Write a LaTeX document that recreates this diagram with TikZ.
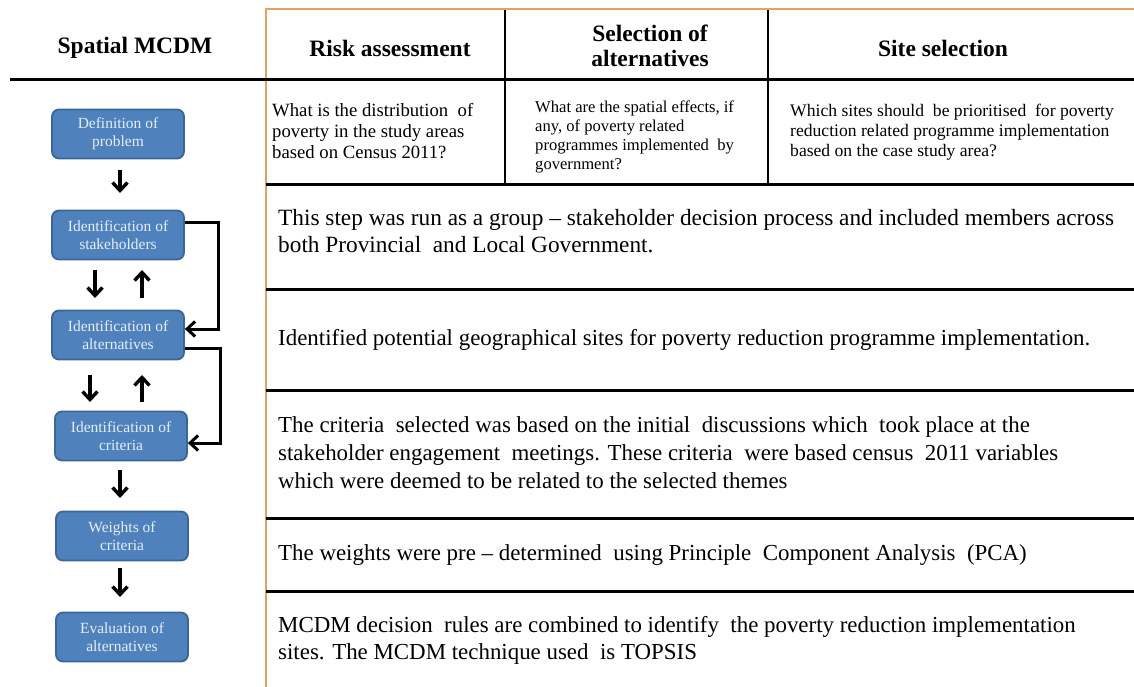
\documentclass[tikz,border=0pt]{standalone}
\usepackage{fontspec}
\setmainfont{Liberation Serif}
\usetikzlibrary{arrows.meta}
\definecolor{boxfill}{HTML}{4F81BD}
\definecolor{boxdraw}{HTML}{3B6699}
\definecolor{boxtext}{HTML}{E6EEF7}
\definecolor{frameor}{HTML}{E8A060}
\tikzset{
  stepbox/.style={draw=boxdraw, line width=1.8pt, fill=boxfill, rounded corners=7pt,
    minimum width=132pt, minimum height=49pt, align=center, text=boxtext,
    font=\fontsize{15.5}{18}\selectfont, inner sep=2pt},
  flowarr/.style={line width=3.4pt, -{Straight Barb[length=8pt,width=15pt,line width=3.4pt]}},
  looparr/.style={line width=3pt, -{Straight Barb[length=8pt,width=15pt,line width=3pt]}},
  rule/.style={line width=3pt, black},
  orule/.style={line width=2.4pt, frameor},
  colrule/.style={line width=2.4pt, black},
  head/.style={font=\bfseries\fontsize{23.5}{25}\selectfont, align=center},
  quest/.style={align=left, anchor=west, inner sep=0pt},
  rowtxt/.style={align=left, anchor=west, inner sep=0pt, font=\fontsize{23.3}{27}\selectfont},
  rowtxtb/.style={align=left, anchor=west, inner sep=0pt, font=\fontsize{22.9}{27}\selectfont},
}
\begin{document}
\begin{tikzpicture}[x=1pt,y=-1pt]
\useasboundingbox (0,0) rectangle (1134,687);
\fill[white] (0,0) rectangle (1134,687);
% frame
\draw[orule] (266,687) -- (266,9) -- (1134,9);
% header rule
\draw[rule] (10,80) -- (1134,80);
% column rules
\draw[colrule] (505,10) -- (505,185);
\draw[colrule] (768,10) -- (768,185);
% row rules
\draw[rule] (266,185) -- (1134,185);
\draw[rule] (266,289) -- (1134,289);
\draw[rule] (266,390) -- (1134,390);
\draw[rule] (266,518) -- (1134,518);
\draw[rule] (266,591) -- (1134,591);
% headers
\node[head] (h0) at (135,48) {Spatial MCDM};
\node[head] (h1) at (390,48) {Risk assessment};
\node[head] (h2) at (650,46) {Selection of\\alternatives};
\node[head] (h3) at (943,48) {Site selection};
% questions
\node[quest, font=\fontsize{18.7}{21}\selectfont] (q1) at (272,131) {What is the distribution~ of\\poverty in the study areas\\based on Census 2011?};
\node[quest, font=\fontsize{16.6}{19}\selectfont] (q2) at (535,137) {What are the spatial effects, if\\any, of poverty related\\programmes implemented~ by\\government?};
\node[quest, font=\fontsize{17.6}{20}\selectfont] (q3) at (790,132) {Which sites should~ be prioritised~ for poverty\\reduction related programme implementation\\based on the case study area?};
% row texts
\node[rowtxt] (r1) at (278,231) {This step was run as a group -- stakeholder decision process and included members across\\both Provincial~ and Local Government.};
\node[rowtxtb] (r2) at (278,340) {Identified potential geographical sites for poverty reduction programme implementation.};
\node[rowtxtb, font=\fontsize{22.9}{28}\selectfont] (r3) at (278,453) {The criteria~ selected was based on the initial~ discussions which~ took place at the\\stakeholder engagement~ meetings. These criteria~ were based census~ 2011 variables\\which were deemed to be related to the selected themes};
\node[rowtxtb] (r4) at (278,555) {The weights were pre -- determined~ using Principle~ Component Analysis~ (PCA)};
\node[rowtxtb] (r5) at (278,640) {MCDM decision~ rules are combined to identify~ the poverty reduction implementation\\sites. The MCDM technique used~ is TOPSIS};
% left flow boxes
\node[stepbox] (b1) at (118,134) {Definition of\\problem};
\node[stepbox] (b2) at (118,235) {Identification of\\stakeholders};
\node[stepbox] (b3) at (118,335) {Identification of\\alternatives};
\node[stepbox] (b4) at (121,436) {Identification of\\criteria};
\node[stepbox] (b5) at (122,536) {Weights of\\criteria};
\node[stepbox] (b6) at (122,637) {Evaluation of\\alternatives};
% coordinates for short arrows
\coordinate (a1s) at (120,170); \coordinate (a1e) at (120,193);
\coordinate (a2s) at (95,270); \coordinate (a2e) at (95,298);
\coordinate (a3s) at (142,298); \coordinate (a3e) at (142,270);
\coordinate (a4s) at (90,375); \coordinate (a4e) at (90,402);
\coordinate (a5s) at (142,402); \coordinate (a5e) at (142,375);
\coordinate (a6s) at (120,470); \coordinate (a6e) at (120,498);
\coordinate (a7s) at (120,568); \coordinate (a7e) at (120,597);
\draw[flowarr] (a1s) -- (a1e);
\draw[flowarr] (a2s) -- (a2e);
\draw[flowarr] (a3s) -- (a3e);
\draw[flowarr] (a4s) -- (a4e);
\draw[flowarr] (a5s) -- (a5e);
\draw[flowarr] (a6s) -- (a6e);
\draw[flowarr] (a7s) -- (a7e);
% feedback loops
\draw[looparr] (b2.east |- 0,222) -- (218,222) -- (218,329) -- (b3.east |- 0,329);
\draw[looparr] (b3.east |- 0,348) -- (220,348) -- (220,443) -- (b4.east |- 0,443);
\end{tikzpicture}
\end{document}
